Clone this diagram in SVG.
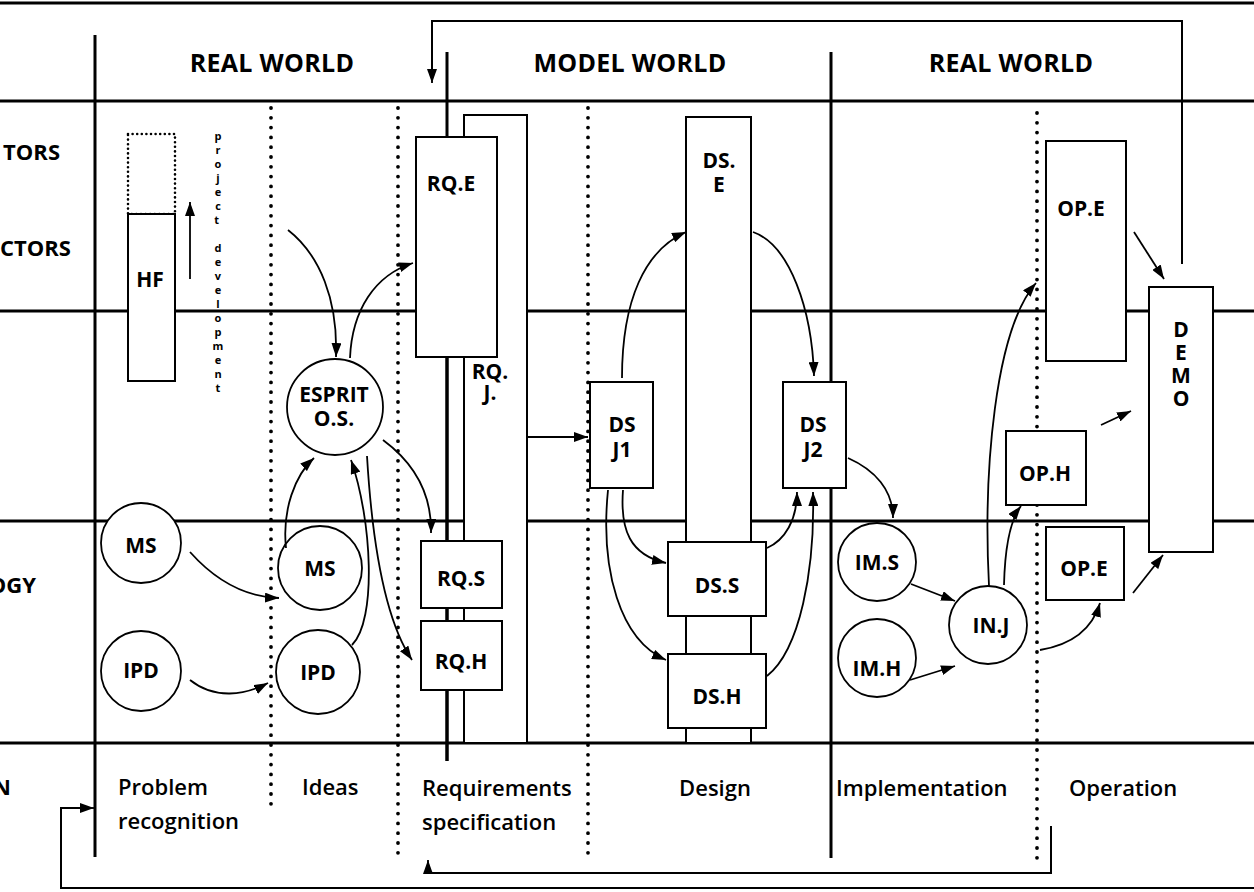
<svg xmlns="http://www.w3.org/2000/svg" width="1254" height="892" viewBox="0 0 1254 892">
  <defs>
    <marker id="ah" viewBox="0 0 14 10" refX="14" refY="5" markerWidth="14" markerHeight="10" markerUnits="userSpaceOnUse" orient="auto">
      <path d="M0,0 L14,5 L0,10 z" fill="#000"/>
    </marker>
    <style>
      .grid { stroke: #000; stroke-width: 3; fill: none; }
      .div { stroke: #000; stroke-width: 3; fill: none; }
      .dots { stroke: #000; stroke-width: 3.8; stroke-linecap: round; stroke-dasharray: 0 9.8; fill: none; }
      .box { fill: #fff; stroke: #000; stroke-width: 2; }
      .circ { fill: #fff; stroke: #000; stroke-width: 1.8; }
      .arr { stroke: #000; stroke-width: 1.8; fill: none; marker-end: url(#ah); }
      .fb { stroke: #000; stroke-width: 2; fill: none; }
      text { font-family: "Open Sans", "Noto Sans", "DejaVu Sans", sans-serif; fill: #000; }
      .hdr { font-size: 25px; font-weight: 700; text-anchor: middle; letter-spacing: 0.3px; }
      .row { font-size: 22px; font-weight: 700; text-anchor: end; }
      .lbl { font-size: 21px; font-weight: 700; text-anchor: middle; }
      .ph { font-size: 22px; font-weight: 600; }
      .vt { font-size: 11px; font-weight: 700; text-anchor: middle; }
    </style>
  </defs>

  <rect width="1254" height="892" fill="#fff"/>

  <!-- frame, rows and phase dividers -->
  <g id="grid">
    <line class="grid" x1="0" y1="3" x2="1254" y2="3"/>
    <line class="grid" x1="0" y1="101" x2="1254" y2="101"/>
    <line class="grid" x1="0" y1="311" x2="1254" y2="311"/>
    <line class="grid" x1="0" y1="521" x2="1254" y2="521"/>
    <line class="grid" x1="0" y1="743" x2="1254" y2="743"/>
    <line class="div" x1="95" y1="35" x2="95" y2="857"/>
    <line class="div" x1="447" y1="52" x2="447" y2="761"/>
    <line class="div" x1="831" y1="52" x2="831" y2="858"/>
    <line class="dots" x1="271" y1="108" x2="271" y2="808"/>
    <line class="dots" x1="398" y1="108" x2="398" y2="857"/>
    <line class="dots" x1="588" y1="108" x2="588" y2="857"/>
    <line class="dots" x1="1037" y1="113" x2="1037" y2="860"/>
  </g>

  <!-- headings and row / phase captions -->
  <g id="captions">
    <text class="hdr" x="272" y="72">REAL WORLD</text>
    <text class="hdr" x="630" y="72">MODEL WORLD</text>
    <text class="hdr" x="1011" y="72">REAL WORLD</text>
    <text class="row" x="60" y="160">TORS</text>
    <text class="row" x="71" y="256">CTORS</text>
    <text class="row" x="36" y="593">OGY</text>
    <text class="row" x="11" y="795">N</text>
    <text class="ph" x="118" y="795">Problem</text>
    <text class="ph" x="118" y="829">recognition</text>
    <text class="ph" x="302" y="795">Ideas</text>
    <text class="ph" x="422" y="796">Requirements</text>
    <text class="ph" x="422" y="830">specification</text>
    <text class="ph" x="715" y="796" text-anchor="middle">Design</text>
    <text class="ph" x="836" y="796">Implementation</text>
    <text class="ph" x="1069" y="796">Operation</text>
    <text class="vt">
      <tspan x="218" y="140">p</tspan><tspan x="218" dy="14">r</tspan><tspan x="218" dy="14">o</tspan><tspan x="218" dy="14">j</tspan><tspan x="218" dy="14">e</tspan><tspan x="218" dy="14">c</tspan><tspan x="218" dy="14">t</tspan>
      <tspan x="218" dy="28">d</tspan><tspan x="218" dy="14">e</tspan><tspan x="218" dy="14">v</tspan><tspan x="218" dy="14">e</tspan><tspan x="218" dy="14">l</tspan><tspan x="218" dy="14">o</tspan><tspan x="218" dy="14">p</tspan><tspan x="218" dy="14">m</tspan><tspan x="218" dy="14">e</tspan><tspan x="218" dy="14">n</tspan><tspan x="218" dy="14">t</tspan>
    </text>
  </g>

  <!-- nodes -->
  <g id="hf">
    <rect x="128" y="134" width="47" height="80" fill="none" stroke="#000" stroke-width="2.6" stroke-linecap="round" stroke-dasharray="0 4.6"/>
    <rect class="box" x="128" y="214" width="47" height="167"/>
    <text class="lbl" x="150" y="287">HF</text>
  </g>
  <g id="ms-problem">
    <circle class="circ" cx="141" cy="543" r="40"/>
    <text class="lbl" x="141" y="553">MS</text>
  </g>
  <g id="ipd-problem">
    <circle class="circ" cx="141" cy="671" r="40"/>
    <text class="lbl" x="141" y="678">IPD</text>
  </g>
  <g id="esprit">
    <circle class="circ" cx="335" cy="407" r="48"/>
    <text class="lbl"><tspan x="334" y="402">ESPRIT</tspan><tspan x="334" y="426">O.S.</tspan></text>
  </g>
  <g id="ms-ideas">
    <circle class="circ" cx="320" cy="568" r="42"/>
    <text class="lbl" x="320" y="576">MS</text>
  </g>
  <g id="ipd-ideas">
    <circle class="circ" cx="318" cy="672" r="42"/>
    <text class="lbl" x="318" y="680">IPD</text>
  </g>
  <g id="rq-j">
    <rect class="box" x="464" y="115" width="63" height="628"/>
    <line class="div" x1="447" y1="357" x2="447" y2="761"/>
    <text class="lbl"><tspan x="490" y="379">RQ.</tspan><tspan x="490" y="400">J.</tspan></text>
  </g>
  <g id="rq-e">
    <rect class="box" x="416" y="137" width="81" height="220"/>
    <text class="lbl" x="451" y="191">RQ.E</text>
  </g>
  <g id="rq-s">
    <rect class="box" x="421" y="541" width="81" height="67"/>
    <text class="lbl" x="461" y="586">RQ.S</text>
  </g>
  <g id="rq-h">
    <rect class="box" x="421" y="621" width="81" height="69"/>
    <text class="lbl" x="461" y="669">RQ.H</text>
  </g>
  <g id="ds-e">
    <rect class="box" x="686" y="117" width="65" height="626"/>
    <text class="lbl"><tspan x="719" y="168">DS.</tspan><tspan x="719" y="192">E</tspan></text>
  </g>
  <g id="ds-j1">
    <rect class="box" x="590" y="382" width="63" height="106"/>
    <text class="lbl"><tspan x="622" y="432">DS</tspan><tspan x="622" y="457">J1</tspan></text>
  </g>
  <g id="ds-j2">
    <rect class="box" x="783" y="382" width="63" height="106"/>
    <text class="lbl"><tspan x="813" y="432">DS</tspan><tspan x="813" y="457">J2</tspan></text>
  </g>
  <g id="ds-s">
    <rect class="box" x="668" y="542" width="98" height="74"/>
    <text class="lbl" x="717" y="593">DS.S</text>
  </g>
  <g id="ds-h">
    <rect class="box" x="668" y="654" width="98" height="74"/>
    <text class="lbl" x="717" y="704">DS.H</text>
  </g>
  <g id="im-s">
    <circle class="circ" cx="877" cy="562" r="39"/>
    <text class="lbl" x="877" y="570">IM.S</text>
  </g>
  <g id="im-h">
    <circle class="circ" cx="877" cy="658" r="39"/>
    <text class="lbl" x="877" y="676">IM.H</text>
  </g>
  <g id="in-j">
    <circle class="circ" cx="988" cy="625" r="39"/>
    <text class="lbl" x="991" y="633">IN.J</text>
  </g>
  <g id="op-e-upper">
    <rect class="box" x="1046" y="141" width="80" height="220"/>
    <text class="lbl" x="1081" y="216">OP.E</text>
  </g>
  <g id="op-h">
    <rect class="box" x="1006" y="431" width="80" height="74"/>
    <text class="lbl" x="1045" y="481">OP.H</text>
  </g>
  <g id="op-e-lower">
    <rect class="box" x="1046" y="527" width="78" height="73"/>
    <text class="lbl" x="1084" y="576">OP.E</text>
  </g>
  <g id="demo">
    <rect class="box" x="1149" y="287" width="64" height="265"/>
    <text class="lbl"><tspan x="1181" y="337">D</tspan><tspan x="1181" y="360">E</tspan><tspan x="1181" y="383">M</tspan><tspan x="1181" y="406">O</tspan></text>
  </g>

  <!-- connectors -->
  <g id="connectors">
    <path class="arr" d="M190,279 L190,202"/>
    <path class="arr" d="M288,230 C320,255 338,300 336,357"/>
    <path class="arr" d="M350,358 C352,310 375,275 413,263"/>
    <path class="arr" d="M383,440 C410,460 432,490 431,533"/>
    <path class="arr" d="M367,456 C372,540 385,620 412,660"/>
    <path class="arr" d="M286,548 C282,510 295,475 314,458"/>
    <path class="arr" d="M352,645 C377,620 372,520 351,460"/>
    <path class="arr" d="M190,552 C215,580 245,597 279,598"/>
    <path class="arr" d="M190,680 C215,700 245,695 268,683"/>
    <path class="arr" d="M527,437 L588,437"/>
    <path class="arr" d="M622,378 C622,300 645,250 686,232"/>
    <path class="arr" d="M753,232 C790,245 812,310 814,376"/>
    <path class="arr" d="M623,490 C620,530 630,555 666,563"/>
    <path class="arr" d="M608,490 C600,570 620,640 666,660"/>
    <path class="arr" d="M767,548 C785,540 797,520 797,492"/>
    <path class="arr" d="M767,676 C800,650 815,570 813,492"/>
    <path class="arr" d="M848,458 C875,470 893,490 893,518"/>
    <path class="arr" d="M911,584 L955,601"/>
    <path class="arr" d="M910,680 L955,666"/>
    <path class="arr" d="M989,586 C983,470 995,330 1036,283"/>
    <path class="arr" d="M1004,585 C1005,545 1010,520 1021,506"/>
    <path class="arr" d="M1040,650 C1070,645 1092,630 1100,603"/>
    <path class="arr" d="M1134,232 L1164,279"/>
    <path class="arr" d="M1101,425 L1131,411"/>
    <path class="arr" d="M1133,593 L1163,555"/>
    <path class="fb" d="M1182,264 L1182,21 L432,21 L432,72"/>
    <path class="arr" d="M432,70 L432,83"/>
    <path class="fb" d="M1051,826 L1051,873 L428,873 L428,870"/>
    <path class="arr" d="M428,872 L428,860"/>
    <path class="fb" d="M1254,888 L61,888 L61,808 L82,808"/>
    <path class="arr" d="M80,808 L94,808"/>
  </g>
</svg>
